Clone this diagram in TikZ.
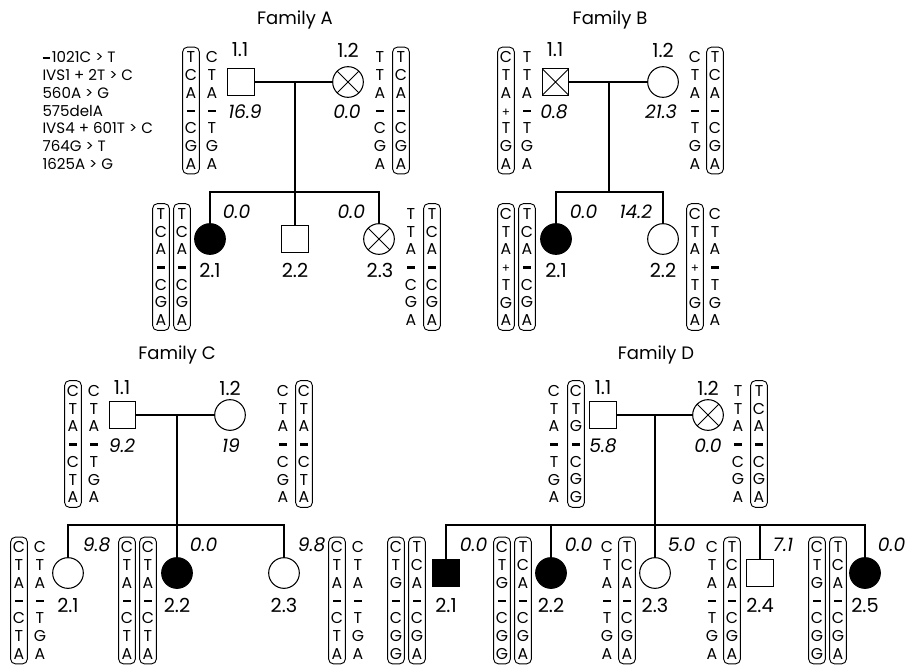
\documentclass[tikz,border=0pt]{standalone}
\usepackage{fontspec}
\setmainfont{Poppins}
\newcommand{\hcol}[7]{#1\\#2\\#3\\#4\\#5\\#6\\#7}
\newcommand{\hapdash}{\rule[2.9pt]{5.5pt}{1.7pt}}
\newcommand{\happlus}{{\fontsize{9}{9}\selectfont+}}
\tikzset{
  indiv/.style={draw, line width=0.8pt, inner sep=0pt},
  male/.style={indiv, rectangle, minimum size=20pt},
  female/.style={indiv, circle, minimum size=23pt},
  affected/.style={fill=black},
  carrier/.style={path picture={\draw[line width=0.6pt]
    (path picture bounding box.north west) -- (path picture bounding box.south east)
    (path picture bounding box.north east) -- (path picture bounding box.south west);}},
  hapfree/.style={align=center, inner sep=0pt, font=\fontsize{11.8}{13.3}\selectfont},
  hapbox/.style={hapfree, draw, rounded corners=3.5pt, minimum width=12.5pt, minimum height=95pt, line width=0.7pt},
  idlab/.style={font=\fontsize{14.5}{16}\selectfont},
  score/.style={font=\fontsize{14}{16}\selectfont\itshape},
  title/.style={font=\fontsize{13.5}{16}\selectfont},
  key/.style={align=left, anchor=west, inner sep=0pt, font=\fontsize{11.3}{13.3}\selectfont}
}

\begin{document}
\begin{tikzpicture}[x=0.75pt, y=-0.75pt, line width=0.8pt]
  \useasboundingbox (0,0) rectangle (917,664);

  % Family A
  \node[title] (titleA) at (295,20) {Family A};
  \node[key] (key) at (42,110.5) {\hapdash\hspace{1.5pt}1021C > T\\IVS1 + 2T > C\\560A > G\\575delA\\IVS4 + 601T > C\\764G > T\\1625A > G};
  \node[male] (A11) at (241,82) {};
  \node[female, carrier] (A12) at (348,82) {};
  \node[female, affected] (A21) at (210,239) {};
  \node[male] (A22) at (295,239) {};
  \node[female, carrier] (A23) at (379,239) {};
  \node[idlab] (A11id) at (240,50) {1.1};
  \node[score] (A11s) at (245,112) {16.9};
  \node[idlab] (A12id) at (348,50) {1.2};
  \node[score] (A12s) at (347,112) {0.0};
  \node[score, anchor=west] (A21s) at (218,212) {0.0};
  \node[idlab] (A21id) at (210,270) {2.1};
  \node[idlab] (A22id) at (295,270) {2.2};
  \node[score, anchor=east] (A23s) at (370,212) {0.0};
  \node[idlab] (A23id) at (380,270) {2.3};
  \node[hapbox] (A11a) at (191,110.5) {\hcol TCA\hapdash CGA};
  \node[hapfree] (A11b) at (212,110.5) {\hcol CTA\hapdash TGA};
  \node[hapfree] (A12a) at (380,110.5) {\hcol TTA\hapdash CGA};
  \node[hapbox] (A12b) at (401,110.5) {\hcol TCA\hapdash CGA};
  \node[hapbox] (A21a) at (161,267) {\hcol TCA\hapdash CGA};
  \node[hapbox] (A21b) at (182,267) {\hcol TCA\hapdash CGA};
  \node[hapfree] (A23a) at (411,267) {\hcol TTA\hapdash CGA};
  \node[hapbox] (A23b) at (432,267) {\hcol TCA\hapdash CGA};
  \coordinate (Am) at (295,82);
  \coordinate (Ab) at (295,192);
  \draw (A11) -- (A12);
  \draw (Am) -- (Ab);
  \draw (A21.north) |- (Ab) -| (A23.north);
  \draw (A22) -- (Ab);

  % Family B
  \node[title] (titleB) at (610,20) {Family B};
  \node[male, carrier] (B11) at (555.5,82) {};
  \node[female] (B12) at (663,82) {};
  \node[female, affected] (B21) at (556,239) {};
  \node[female] (B22) at (663,239) {};
  \node[idlab] (B11id) at (555,50) {1.1};
  \node[score] (B11s) at (554,112) {0.8};
  \node[idlab] (B12id) at (663,50) {1.2};
  \node[score] (B12s) at (661,112) {21.3};
  \node[score, anchor=west] (B21s) at (565,212) {0.0};
  \node[idlab] (B21id) at (556,270) {2.1};
  \node[score, anchor=east] (B22s) at (657,212) {14.2};
  \node[idlab] (B22id) at (663,270) {2.2};
  \node[hapbox] (B11a) at (506,110.5) {\hcol CTA\happlus TGA};
  \node[hapfree] (B11b) at (527,110.5) {\hcol TTA\hapdash TGA};
  \node[hapfree] (B12a) at (695,110.5) {\hcol CTA\hapdash TGA};
  \node[hapbox] (B12b) at (715,110.5) {\hcol TCA\hapdash CGA};
  \node[hapbox] (B21a) at (506,267) {\hcol CTA\happlus TGA};
  \node[hapbox] (B21b) at (527,267) {\hcol TCA\hapdash CGA};
  \node[hapbox] (B22a) at (695,267) {\hcol CTA\happlus TGA};
  \node[hapfree] (B22b) at (715,267) {\hcol CTA\hapdash TGA};
  \coordinate (Bm) at (609,82);
  \coordinate (Bb) at (609,192);
  \draw (B11) -- (B12);
  \draw (Bm) -- (Bb);
  \draw (B21.north) |- (Bb) -| (B22.north);

  % Family C
  \node[title] (titleC) at (177,355) {Family C};
  \node[male] (C11) at (122.5,415) {};
  \node[female] (C12) at (230,415) {};
  \node[female] (C21) at (68,573) {};
  \node[female, affected] (C22) at (177,573) {};
  \node[female] (C23) at (284,573) {};
  \node[idlab] (C11id) at (122,388) {1.1};
  \node[score] (C11s) at (122,446) {9.2};
  \node[idlab] (C12id) at (230,388) {1.2};
  \node[score] (C12s) at (231,446) {19};
  \node[score, anchor=west] (C21s) at (78,545) {9.8};
  \node[idlab] (C21id) at (68,605) {2.1};
  \node[score, anchor=west] (C22s) at (185,545) {0.0};
  \node[idlab] (C22id) at (177,605) {2.2};
  \node[score, anchor=west] (C23s) at (293,545) {9.8};
  \node[idlab] (C23id) at (284,605) {2.3};
  \node[hapbox] (C11a) at (73,444) {\hcol CTA\hapdash CTA};
  \node[hapfree] (C11b) at (94,444) {\hcol CTA\hapdash TGA};
  \node[hapfree] (C12a) at (283,444) {\hcol CTA\hapdash CGA};
  \node[hapbox] (C12b) at (304,444) {\hcol CTA\hapdash CTA};
  \node[hapbox] (C21a) at (19,600.5) {\hcol CTA\hapdash CTA};
  \node[hapfree] (C21b) at (40,600.5) {\hcol CTA\hapdash TGA};
  \node[hapbox] (C22a) at (127,600.5) {\hcol CTA\hapdash CTA};
  \node[hapbox] (C22b) at (148,600.5) {\hcol CTA\hapdash CTA};
  \node[hapbox] (C23a) at (337,600.5) {\hcol CTA\hapdash CTA};
  \node[hapfree] (C23b) at (358,600.5) {\hcol CTA\hapdash TGA};
  \coordinate (Cm) at (177,415);
  \coordinate (Cb) at (177,525);
  \draw (C11) -- (C12);
  \draw (Cm) -- (Cb);
  \draw (C21.north) |- (Cb) -| (C23.north);
  \draw (C22) -- (Cb);

  % Family D
  \node[title] (titleD) at (656,355) {Family D};
  \node[male] (D11) at (603,415) {};
  \node[female, carrier] (D12) at (708,415) {};
  \node[male, affected] (D21) at (446,573) {};
  \node[female, affected] (D22) at (551,573) {};
  \node[female] (D23) at (655,573) {};
  \node[male] (D24) at (760,573) {};
  \node[female, affected] (D25) at (865,573) {};
  \node[idlab] (D11id) at (603,388) {1.1};
  \node[score] (D11s) at (603,446) {5.8};
  \node[idlab] (D12id) at (708,388) {1.2};
  \node[score] (D12s) at (708,446) {0.0};
  \node[score, anchor=west] (D21s) at (455,545) {0.0};
  \node[idlab] (D21id) at (446,605) {2.1};
  \node[score, anchor=west] (D22s) at (560,545) {0.0};
  \node[idlab] (D22id) at (551,605) {2.2};
  \node[score, anchor=west] (D23s) at (663,545) {5.0};
  \node[idlab] (D23id) at (655,605) {2.3};
  \node[score, anchor=west] (D24s) at (768,545) {7.1};
  \node[idlab] (D24id) at (760,605) {2.4};
  \node[score, anchor=west] (D25s) at (873,545) {0.0};
  \node[idlab] (D25id) at (865,605) {2.5};
  \node[hapfree] (D11a) at (554,444) {\hcol CTA\hapdash TGA};
  \node[hapbox] (D11b) at (576,444) {\hcol CTG\hapdash CGG};
  \node[hapfree] (D12a) at (738,444) {\hcol TTA\hapdash CGA};
  \node[hapbox] (D12b) at (759,444) {\hcol TCA\hapdash CGA};
  \node[hapbox] (D21a) at (396,600.5) {\hcol CTG\hapdash CGG};
  \node[hapbox] (D21b) at (417,600.5) {\hcol TCA\hapdash CGA};
  \node[hapbox] (D22a) at (502,600.5) {\hcol CTG\hapdash CGG};
  \node[hapbox] (D22b) at (523,600.5) {\hcol TCA\hapdash CGA};
  \node[hapfree] (D23a) at (607,600.5) {\hcol CTA\hapdash TGA};
  \node[hapbox] (D23b) at (627,600.5) {\hcol TCA\hapdash CGA};
  \node[hapfree] (D24a) at (712,600.5) {\hcol CTA\hapdash TGA};
  \node[hapbox] (D24b) at (732,600.5) {\hcol TCA\hapdash CGA};
  \node[hapbox] (D25a) at (817,600.5) {\hcol CTG\hapdash CGG};
  \node[hapbox] (D25b) at (838,600.5) {\hcol TCA\hapdash CGA};
  \coordinate (Dm) at (655,415);
  \coordinate (Db) at (655,525);
  \draw (D11) -- (D12);
  \draw (Dm) -- (Db);
  \draw (D21.north) |- (Db) -| (D25.north);
  \draw (D22) -- (D22 |- Db);
  \draw (D23) -- (Db);
  \draw (D24) -- (D24 |- Db);
\end{tikzpicture}
\end{document}
